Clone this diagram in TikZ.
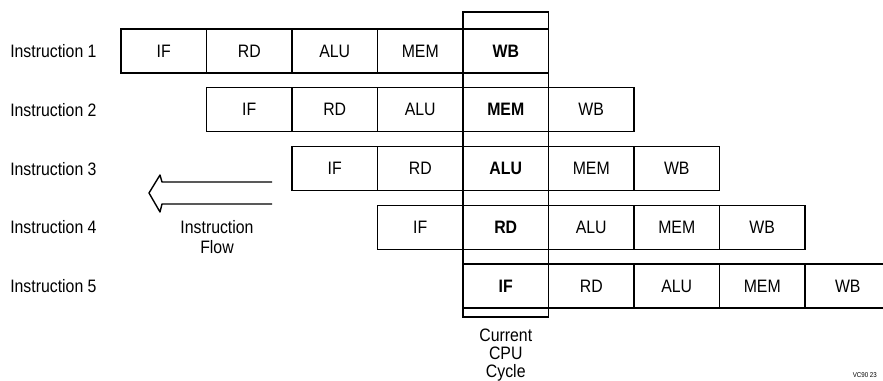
\documentclass[tikz,border=0pt]{standalone}
\usepackage{fontspec}
\setmainfont[FakeStretch=0.88]{Liberation Sans}
\usepackage{tikz}
\usetikzlibrary{positioning}

\tikzset{
    stage/.style={draw, line width=1pt, minimum width=2.1375cm, minimum height=1.1cm,
        inner sep=0pt, outer sep=0pt, font=\fontsize{12.8}{14}\selectfont},
    nowstage/.style={stage, font=\fontsize{12.8}{14}\selectfont\bfseries},
    rowname/.style={anchor=west, inner sep=0pt, font=\fontsize{12.8}{14}\selectfont},
    note/.style={align=center, inner sep=0pt, font=\fontsize{12.8}{12.8}\selectfont}
}

\begin{document}
\begin{tikzpicture}
    \useasboundingbox (0,0) rectangle (22.075,9.525);

    % current cycle column
    \draw[line width=1pt] (11.575,1.6) rectangle (13.7125,9.225);

    % instruction 1
    \node[stage] (if1) at (4.094,8.25) {IF};
    \node[stage, right=0pt of if1] (rd1) {RD};
    \node[stage, right=0pt of rd1] (alu1) {ALU};
    \node[stage, right=0pt of alu1] (mem1) {MEM};
    \node[nowstage, right=0pt of mem1] (wb1) {WB};

    % instruction 2
    \node[stage] (if2) at (6.231,6.78) {IF};
    \node[stage, right=0pt of if2] (rd2) {RD};
    \node[stage, right=0pt of rd2] (alu2) {ALU};
    \node[nowstage, right=0pt of alu2] (mem2) {MEM};
    \node[stage, right=0pt of mem2] (wb2) {WB};

    % instruction 3
    \node[stage] (if3) at (8.369,5.31) {IF};
    \node[stage, right=0pt of if3] (rd3) {RD};
    \node[nowstage, right=0pt of rd3] (alu3) {ALU};
    \node[stage, right=0pt of alu3] (mem3) {MEM};
    \node[stage, right=0pt of mem3] (wb3) {WB};

    % instruction 4
    \node[stage] (if4) at (10.506,3.84) {IF};
    \node[nowstage, right=0pt of if4] (rd4) {RD};
    \node[stage, right=0pt of rd4] (alu4) {ALU};
    \node[stage, right=0pt of alu4] (mem4) {MEM};
    \node[stage, right=0pt of mem4] (wb4) {WB};

    % instruction 5
    \node[nowstage] (if5) at (12.644,2.37) {IF};
    \node[stage, right=0pt of if5] (rd5) {RD};
    \node[stage, right=0pt of rd5] (alu5) {ALU};
    \node[stage, right=0pt of alu5] (mem5) {MEM};
    \node[stage, right=0pt of mem5] (wb5) {WB};

    \node[rowname] (name1) at (0.25,8.25) {Instruction 1};
    \node[rowname] (name2) at (0.25,6.78) {Instruction 2};
    \node[rowname] (name3) at (0.25,5.31) {Instruction 3};
    \node[rowname] (name4) at (0.25,3.84) {Instruction 4};
    \node[rowname] (name5) at (0.25,2.37) {Instruction 5};

    % hollow arrow
    \draw[line width=1pt, line join=round] (6.8,4.975) -- (4.05,4.975) -- (4.0,5.15)
        -- (3.725,4.7) -- (4.0,4.225) -- (4.05,4.425) -- (6.8,4.425);

    \node[note, font=\fontsize{12.8}{13.8}\selectfont] (flow) at (5.425,3.6) {Instruction\\Flow};
    \node[note] (cycle) at (12.644,0.66) {Current\\CPU\\Cycle};
    \node[inner sep=0pt, font=\fontsize{5}{6}\selectfont] (tag) at (21.62,0.15) {VC90 23};
\end{tikzpicture}
\end{document}
